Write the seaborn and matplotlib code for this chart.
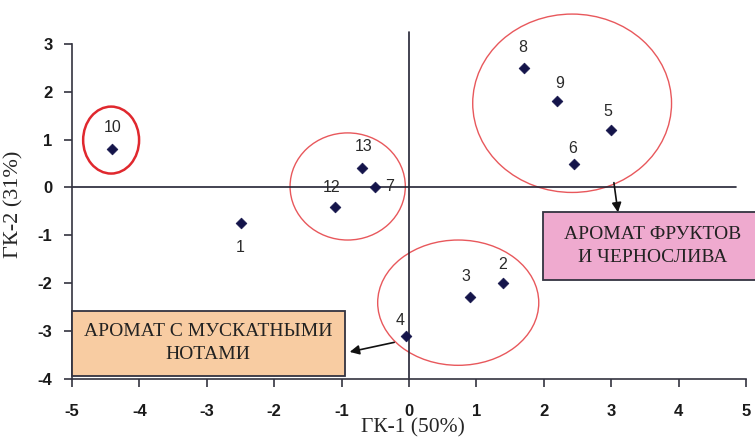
import matplotlib
matplotlib.use('Agg')
import matplotlib.pyplot as plt
import pandas as pd
import seaborn as sns
from matplotlib.patches import Ellipse, Rectangle

# ── данные ──────────────────────────────────────────────────────────────────
labels = ["1", "2", "3", "4", "5", "6", "7", "8", "9", "10", "12", "13"]
gk1 = [-2.5, 1.4, 0.9, -0.05, 3.0, 2.45, -0.5, 1.7, 2.2, -4.4, -1.1, -0.7]
gk2 = [-0.75, -2.0, -2.3, -3.1, 1.2, 0.5, 0.0, 2.5, 1.8, 0.8, -0.4, 0.4]

x_ticks = [-5, -4, -3, -2, -1, 0, 1, 2, 3, 4, 5]
y_ticks = [-4, -3, -2, -1, 0, 1, 2, 3]

df = pd.DataFrame({"label": labels, "gk1": gk1, "gk2": gk2})

# смещения подписей точек (в пикселях)
offsets = {"1": (0, -24), "2": (-1, 19), "3": (-4, 21), "4": (-6, 15),
           "5": (-3, 19), "6": (-1, 15), "7": (14, 1), "8": (-1, 20),
           "9": (2, 18), "10": (0, 22), "12": (-3, 19), "13": (2, 22)}

sns.set_style("ticks")
plt.rcParams['font.family'] = ['Liberation Sans', 'DejaVu Sans']
plt.rcParams['axes.unicode_minus'] = False

fig = plt.figure(figsize=(7.55, 4.37), dpi=100)
ax = fig.add_axes([0.0954, 0.1334, 0.8927, 0.766])

sns.scatterplot(data=df, x="gk1", y="gk2", marker="D", s=30,
                color="#14144a", edgecolor="#14144a", linewidth=0.5, ax=ax, zorder=5)

for _, r in df.iterrows():
    dx, dy = offsets[r["label"]]
    ax.annotate(r["label"], (r["gk1"], r["gk2"]), xytext=(dx, dy),
                textcoords="offset pixels", ha="center", va="center",
                fontsize=11.5, color="#2a2a2a")

# оси через ноль
ax.axhline(0, color="#222233", lw=1.2, xmin=0, xmax=0.985, zorder=2)
ax.plot([0, 0], [-4, 3.25], color="#222233", lw=1.2, clip_on=False, zorder=2)

# эллипсы групп
ell = [((-4.42, 0.99), 0.83, 1.40, "#e0282e", 1.8),
       ((-0.91, 0.02), 1.71, 2.24, "#e8585c", 1.0),
       ((2.42, 1.76), 2.95, 3.73, "#e8585c", 1.0),
       ((0.73, -2.41), 2.39, 2.62, "#e8585c", 1.0)]
for c, w, h, col, lw in ell:
    ax.add_patch(Ellipse(c, w, h, fill=False, ec=col, lw=lw, clip_on=False))

# подписи-выноски
serif = ['Liberation Serif', 'DejaVu Serif']
ax.add_patch(Rectangle((1.99, -1.93), 3.2, 1.41, fc="#efaacf", ec="#333340",
                       lw=1.3, clip_on=False, zorder=6))
ax.text(3.62, -1.23, "АРОМАТ ФРУКТОВ\nИ ЧЕРНОСЛИВА", ha="center", va="center",
        family=serif, fontsize=14, linespacing=1.45, color="#222222", zorder=7)
ax.annotate("", xy=(3.10, -0.52), xytext=(3.04, 0.10),
            arrowprops=dict(arrowstyle="-|>", color="#111111", lw=1.2,
                            mutation_scale=14, shrinkA=0, shrinkB=0))

ax.add_patch(Rectangle((-5, -3.94), 4.05, 1.36, fc="#f8cca2", ec="#333340",
                       lw=1.3, clip_on=False, zorder=6))
ax.text(-2.98, -3.26, "АРОМАТ С МУСКАТНЫМИ\nНОТАМИ", ha="center", va="center",
        family=serif, fontsize=14, linespacing=1.45, color="#222222", zorder=7)
ax.annotate("", xy=(-0.88, -3.44), xytext=(-0.22, -3.24),
            arrowprops=dict(arrowstyle="-|>", color="#111111", lw=1.2,
                            mutation_scale=14, shrinkA=0, shrinkB=0))

ax.set_xlim(-5, 5)
ax.set_ylim(-4, 3)
ax.set_xticks(x_ticks)
ax.set_yticks(y_ticks)
ax.tick_params(axis="both", labelsize=12, length=6, width=1.2, color="#333340")
ax.tick_params(axis="x", pad=12)
ax.tick_params(axis="y", pad=8)
for t in ax.get_xticklabels() + ax.get_yticklabels():
    t.set_color("#1a1a1a")
    t.set_fontweight("bold")

sns.despine(ax=ax)
for sp in ["left", "bottom"]:
    ax.spines[sp].set_color("#333340")
    ax.spines[sp].set_linewidth(1.2)

ax.set_xlabel("ГК-1 (50%)", family=serif, fontsize=15.5)
ax.set_ylabel("ГК-2 (31%)", family=serif, fontsize=16)
ax.xaxis.set_label_coords(0.506, -0.118)
ax.yaxis.set_label_coords(-0.072, 0.52)

fig.savefig("out.png", dpi=100)
